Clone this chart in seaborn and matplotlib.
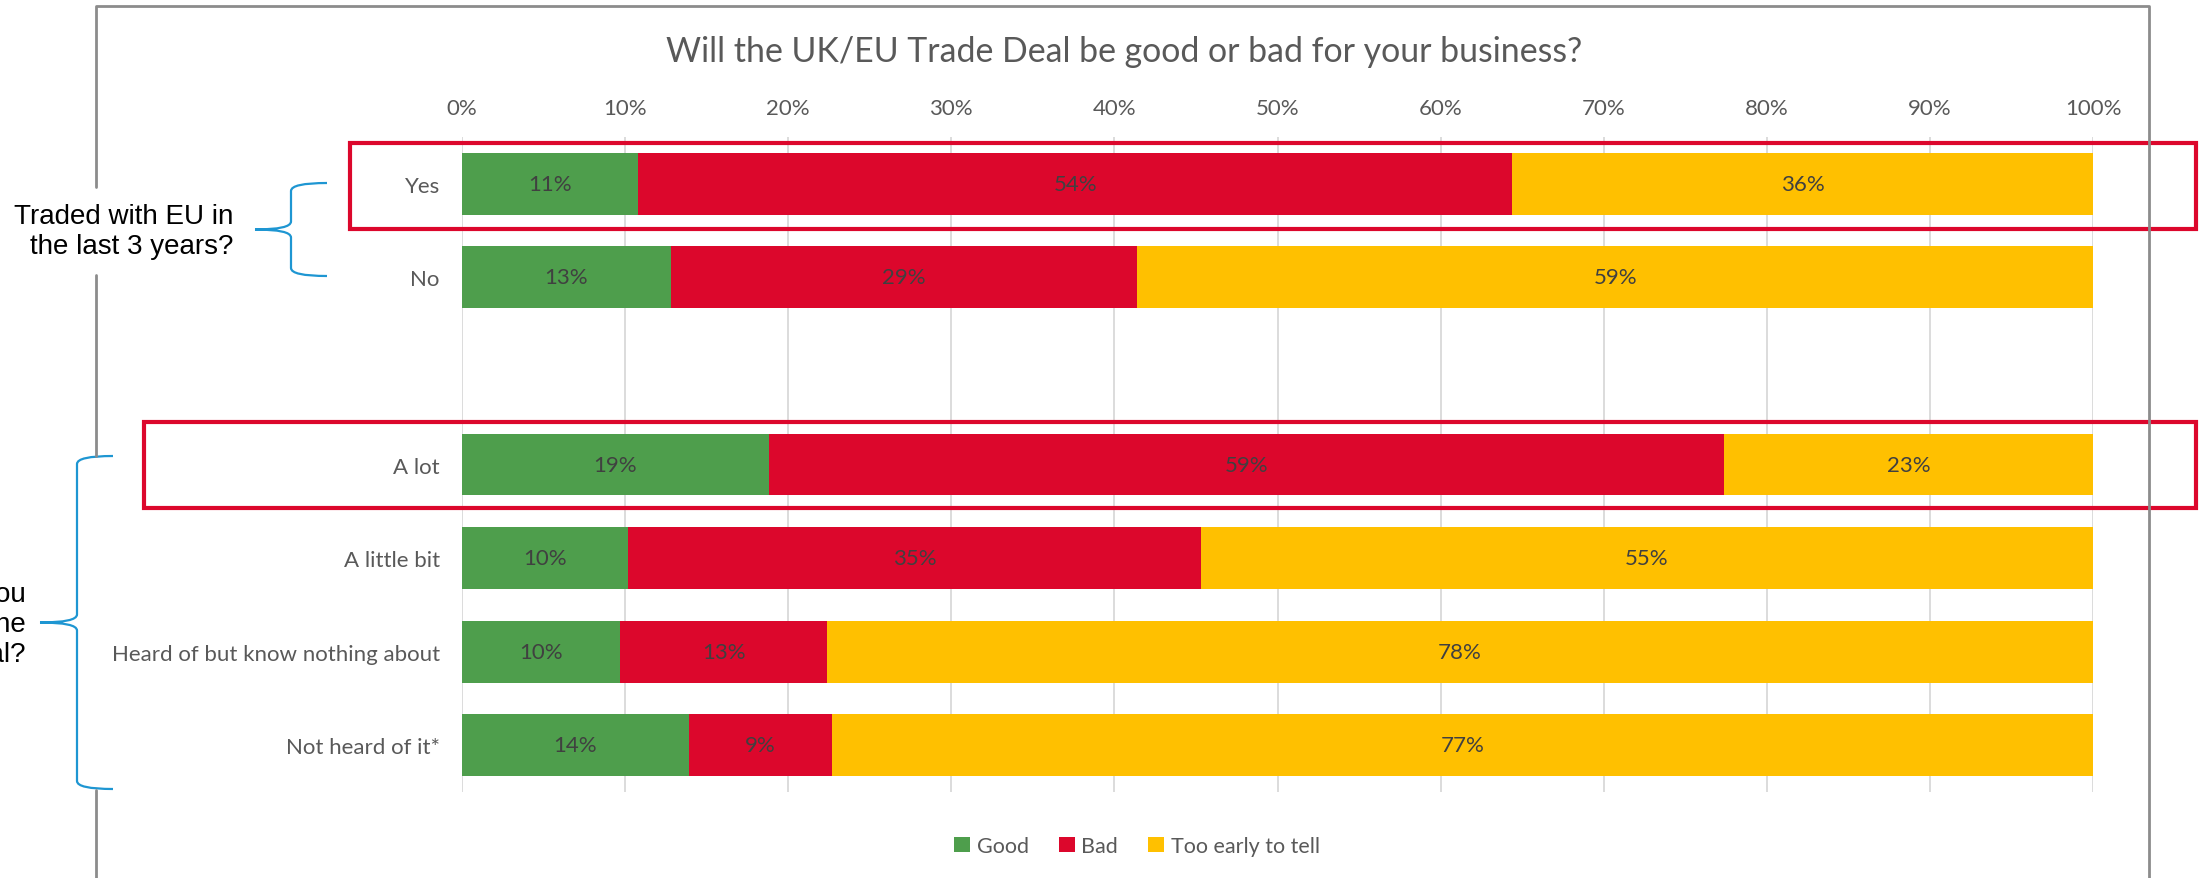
import matplotlib
matplotlib.use("Agg")
import matplotlib.pyplot as plt
import matplotlib.transforms as mtransforms
from matplotlib.path import Path
from matplotlib.patches import PathPatch, Rectangle, Patch
from matplotlib.lines import Line2D
import seaborn as sns
import pandas as pd

# ---- data -------------------------------------------------------------
categories = ["Yes", "No", "A lot", "A little bit",
              "Heard of but know nothing about", "Not heard of it*"]
spacer = " "
row_order = ["Yes", "No", spacer, "A lot", "A little bit",
             "Heard of but know nothing about", "Not heard of it*"]
good = [10.8, 12.8, 18.8, 10.2, 9.7, 13.9]
bad = [53.6, 28.6, 58.6, 35.1, 12.7, 8.8]
too_early = [35.6, 58.6, 22.6, 54.7, 77.6, 77.3]
series_names = ["Good", "Bad", "Too early to tell"]
x_ticks = list(range(0, 101, 10))
x_tick_labels = [f"{t}%" for t in x_ticks]
title = "Will the UK/EU Trade Deal be good or bad for your business?"
group1_text = "Traded with EU in\nthe last 3 years?"
group2_text = "How much do you\nknow about the\nTrade Deal?"

GREEN, RED, YELLOW = "#4E9E4C", "#DC072C", "#FFC000"
TXT, LBL = "#595959", "#404040"
BORDER, BRACE = "#8C8C8C", "#1E96D2"

df = pd.DataFrame({"cat": categories, "good": good, "bad": bad, "early": too_early})
df["c1"] = df["good"]
df["c2"] = df["good"] + df["bad"]
df["c3"] = df["c2"] + df["early"]

# ---- figure -----------------------------------------------------------
sns.set_theme(style="white")
plt.rcParams["font.family"] = ["Lato", "DejaVu Sans"]

W, H = 2202, 879
fig = plt.figure(figsize=(W / 100, H / 100), dpi=100)
fig.patch.set_facecolor("white")
# pixel coordinates, origin at top-left
px = mtransforms.Affine2D().scale(1 / W, -1 / H).translate(0, 1) + fig.transFigure

ax = fig.add_axes([462 / W, 1 - 793 / H, 1631 / W, 655 / H])

for col, color in [("c3", YELLOW), ("c2", RED), ("c1", GREEN)]:
    sns.barplot(data=df, x=col, y="cat", order=row_order, color=color,
                saturation=1, width=0.66, linewidth=0, ax=ax, orient="h")

pos = {c: row_order.index(c) for c in categories}
for i, c in enumerate(categories):
    starts = [0, good[i], good[i] + bad[i]]
    for s, v in zip(starts, [good[i], bad[i], too_early[i]]):
        ax.text(s + v / 2, pos[c], f"{v:.0f}%", ha="center", va="center",
                fontsize=16, color=LBL)

ax.set_xlim(0, 100)
ax.set_ylim(6.5, -0.5)
ax.set_xticks(x_ticks)
ax.set_xticklabels(x_tick_labels)
ax.xaxis.tick_top()
ax.tick_params(axis="x", length=0, pad=14, labelsize=16, labelcolor=TXT)
ax.tick_params(axis="y", length=0, pad=16, labelsize=16, labelcolor=TXT)
ax.grid(axis="x", color="#D9D9D9", linewidth=1.3)
ax.set_axisbelow(True)
ax.set_xlabel("")
ax.set_ylabel("")
for s in ax.spines.values():
    s.set_visible(False)

# title and legend
fig.text(1124 / W, 1 - 52 / H, title, ha="center", va="center",
         fontsize=24.4, color=TXT)
handles = [Patch(facecolor=c, edgecolor="none") for c in (GREEN, RED, YELLOW)]
fig.legend(handles, series_names, loc="center", bbox_to_anchor=(1137 / W, 1 - 847 / H),
           ncol=3, frameon=False, fontsize=15.5, labelcolor=TXT,
           handlelength=0.75, handleheight=0.75, handletextpad=0.3,
           columnspacing=1.4)

# chart border (left edge interrupted by the group notes)
for xs, ys in [([96, 96, 2149, 2149], [188, 7, 7, H]),
               ([96, 96], [276, 457]),
               ([96, 96], [791, H])]:
    fig.add_artist(Line2D(xs, ys, transform=px, color=BORDER, lw=2))

# highlight boxes
for x0, y0 in [(350, 144), (144, 423)]:
    fig.add_artist(Rectangle((x0, y0), 2196 - x0, 86, transform=px, fill=False,
                             edgecolor=RED, lw=3))


def brace(x_tip, x_spine, x_point, y_top, y_bot, r=8):
    y_mid = (y_top + y_bot) / 2
    verts = [(x_tip, y_top), (x_spine, y_top), (x_spine, y_top + r),
             (x_spine, y_mid - r), (x_spine, y_mid), (x_point, y_mid),
             (x_spine, y_mid), (x_spine, y_mid + r),
             (x_spine, y_bot - r), (x_spine, y_bot), (x_tip, y_bot)]
    codes = [Path.MOVETO, Path.CURVE3, Path.CURVE3,
             Path.LINETO, Path.CURVE3, Path.CURVE3,
             Path.CURVE3, Path.CURVE3,
             Path.LINETO, Path.CURVE3, Path.CURVE3]
    fig.add_artist(PathPatch(Path(verts, codes), transform=px, fill=False,
                             edgecolor=BRACE, lw=1.6))


brace(327, 291, 255, 184, 277)
brace(113, 77, 40, 457, 790)

fig.text(233 / W, 1 - 232 / H, group1_text, ha="right", va="center",
         fontsize=20, family=["Liberation Sans", "DejaVu Sans"], color="black",
         linespacing=1.2)
fig.text(26 / W, 1 - 625 / H, group2_text, ha="right", va="center",
         fontsize=20, family=["Liberation Sans", "DejaVu Sans"], color="black",
         linespacing=1.2)

fig.savefig("out.png", dpi=100)
